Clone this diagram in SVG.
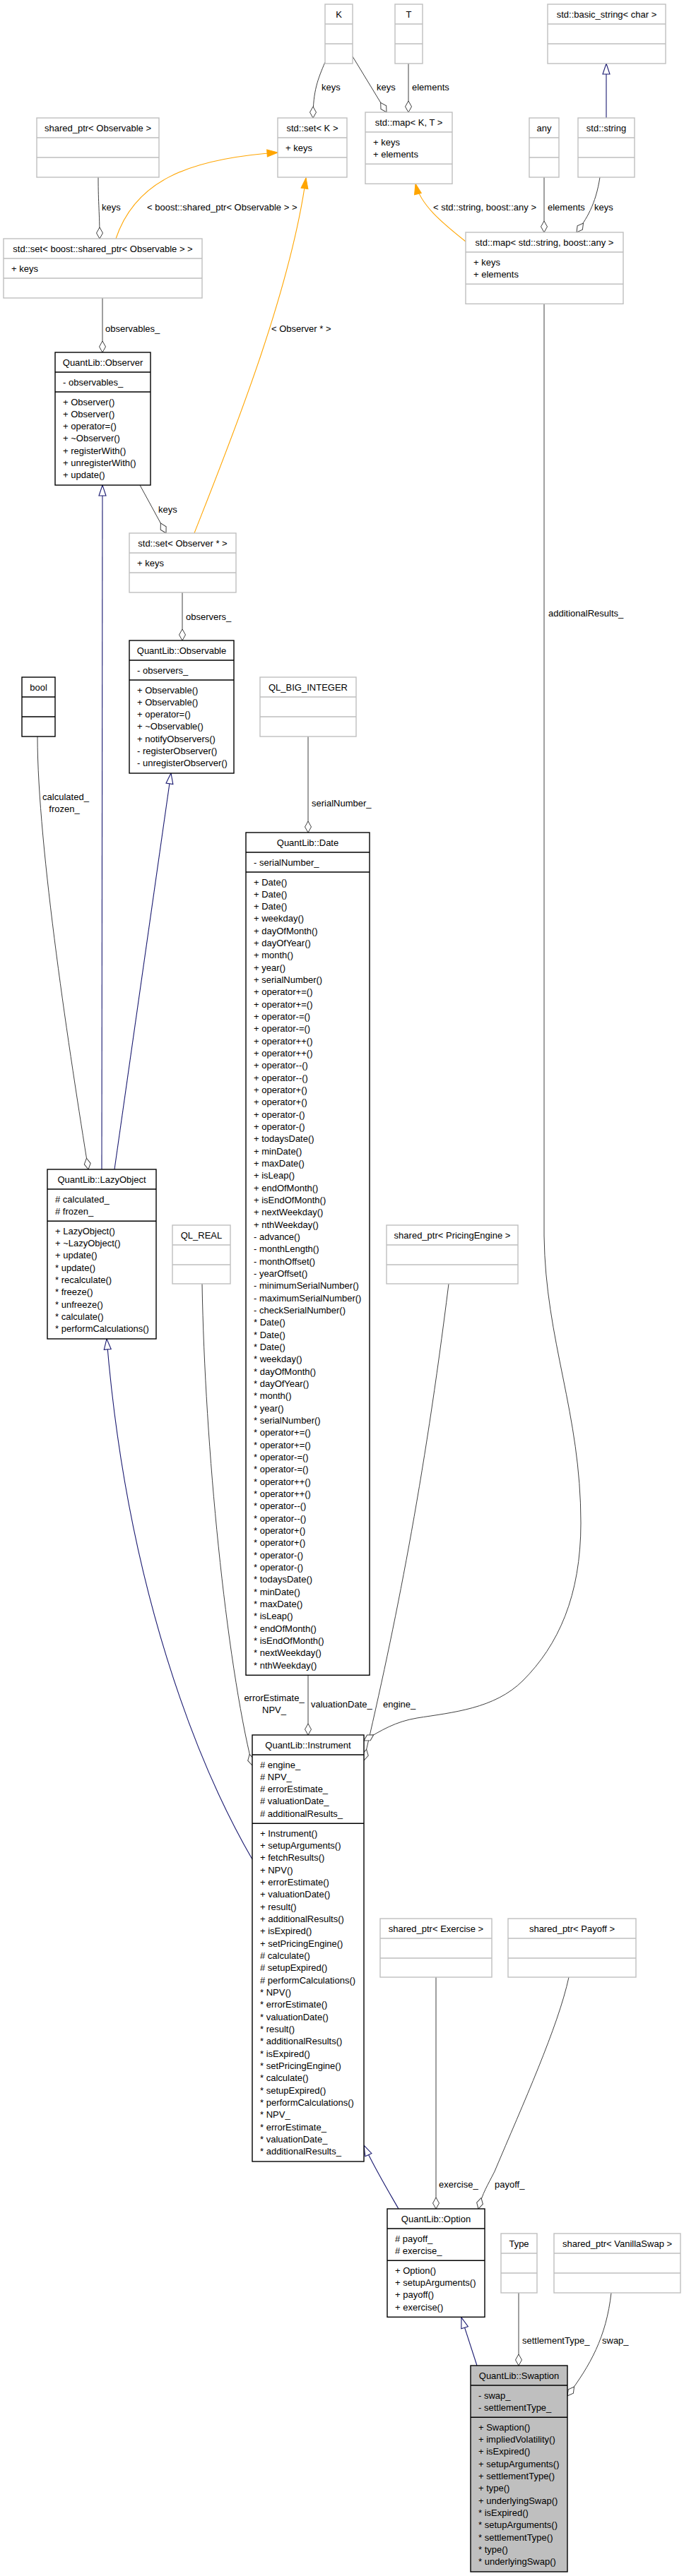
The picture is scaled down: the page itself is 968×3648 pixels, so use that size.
<svg xmlns="http://www.w3.org/2000/svg" width="968" height="3648" viewBox="0 0 968 3648">
<style>
text{font-family:"Liberation Sans",Arial,sans-serif;font-size:13px;fill:#000}
.c{text-anchor:middle}
.bk{fill:#fff;stroke:#000;stroke-width:1.4}
.gr{fill:#fff;stroke:#bfbfbf;stroke-width:1.4}
.sel{fill:#bfbfbf;stroke:#000;stroke-width:1.4}
.sk{stroke:#000;stroke-width:1.4}
.sg{stroke:#bfbfbf;stroke-width:1.4}
.ag{fill:none;stroke:#404040;stroke-width:1;marker-end:url(#dia)}
.in{fill:none;stroke:#191970;stroke-width:1.1;marker-end:url(#tri)}
.tp{fill:none;stroke:#ffa500;stroke-width:1.1;marker-end:url(#otri)}
</style>
<defs>
<marker id="dia" markerUnits="userSpaceOnUse" markerWidth="18" markerHeight="12" refX="16" refY="5" orient="auto" viewBox="-1 -1 18 12"><path d="M0,5 L8,0.5 L16,5 L8,9.5 Z" fill="#fff" stroke="#404040" stroke-width="1"/></marker>
<marker id="tri" markerUnits="userSpaceOnUse" markerWidth="17" markerHeight="13" refX="15" refY="5.5" orient="auto" viewBox="-1 -1 17 13"><path d="M0,0.5 L15,5.5 L0,10.5 Z" fill="#fff" stroke="#191970" stroke-width="1.1"/></marker>
<marker id="otri" markerUnits="userSpaceOnUse" markerWidth="17" markerHeight="13" refX="15" refY="5.5" orient="auto" viewBox="-1 -1 17 13"><path d="M0,0.5 L15,5.5 L0,10.5 Z" fill="#ffa500" stroke="#ffa500" stroke-width="1"/></marker>
</defs>
<rect width="968" height="3648" fill="#fff"/>

<g id="edges">
<path class="ag" d="M460,88 C450,112 443,128 443,167"/>
<path class="ag" d="M499,80 L547,159"/>
<path class="ag" d="M578,90 L578,159"/>
<path class="in" d="M858,167 L858,90"/>
<path class="ag" d="M139,251 C139,290 141,300 141,338"/>
<path class="tp" d="M164,338 C190,260 260,225 393,216"/>
<path class="tp" d="M275,755 C320,640 410,420 433,252"/>
<path class="tp" d="M659,342 C625,315 595,290 588,260"/>
<path class="ag" d="M770,251 L770,329"/>
<path class="ag" d="M849,251 C843,290 830,310 816,329"/>
<path class="ag" d="M145,422 L145,499"/>
<path class="ag" d="M198,687 L235,755"/>
<path class="ag" d="M258,839 L258,907"/>
<path class="in" d="M144,1656 L145,687"/>
<path class="in" d="M162,1656 L242,1095"/>
<path class="ag" d="M53,1043 C53,1200 100,1500 125,1656"/>
<path class="ag" d="M436,1043 L436,1179"/>
<path class="in" d="M357,2633 C280,2500 180,2250 151,1896"/>
<path class="ag" d="M286,1818 C290,2050 320,2350 357,2500"/>
<path class="ag" d="M436,2372 L436,2457"/>
<path class="ag" d="M635,1818 C600,2100 560,2300 515,2493"/>
<path class="ag" d="M770,431 L770,1750 C772,1900 822,2000 822,2157 C822,2260 790,2330 740,2380 C700,2420 640,2425 590,2433 C560,2438 540,2450 515,2465"/>
<path class="in" d="M564,3128 C545,3095 530,3070 515,3038"/>
<path class="ag" d="M617,2800 L617,3128"/>
<path class="ag" d="M805,2800 C790,2870 740,2980 700,3075 C690,3095 683,3105 677,3128"/>
<path class="in" d="M675,3350 L653,3282"/>
<path class="ag" d="M734,3247 L734,3350"/>
<path class="ag" d="M865,3247 C858,3310 835,3350 803,3393"/>
<text x="455" y="127.5">keys</text>
<text x="533" y="127.5">keys</text>
<text x="583" y="127.5">elements</text>
<text x="144" y="297.5">keys</text>
<text x="208" y="297.5">&lt; boost::shared_ptr&lt; Observable &gt; &gt;</text>
<text x="613" y="297.5">&lt; std::string, boost::any &gt;</text>
<text x="775" y="297.5">elements</text>
<text x="841" y="297.5">keys</text>
<text x="149" y="469.5">observables_</text>
<text x="384" y="469.5">&lt; Observer * &gt;</text>
<text x="224" y="725.5">keys</text>
<text x="263" y="877.5">observers_</text>
<text x="776" y="872.5">additionalResults_</text>
<text class="c" x="93" y="1132.5">calculated_</text>
<text class="c" x="91" y="1149.5">frozen_</text>
<text x="441" y="1141.5">serialNumber_</text>
<text class="c" x="388" y="2408.5">errorEstimate_</text>
<text class="c" x="388" y="2426">NPV_</text>
<text x="440" y="2417.5">valuationDate_</text>
<text x="542" y="2417.5">engine_</text>
<text x="621" y="3097.5">exercise_</text>
<text x="700" y="3097.5">payoff_</text>
<text x="739" y="3318.5">settlementType_</text>
<text x="852" y="3318.5">swap_</text>
</g>

<g id="K"><rect class="gr" x="460" y="6" width="39" height="84"/><path class="sg" d="M460,34H499M460,62H499"/><text class="c" x="479.5" y="24.5">K</text></g>
<g id="T"><rect class="gr" x="559" y="6" width="39" height="84"/><path class="sg" d="M559,34H598M559,62H598"/><text class="c" x="578.5" y="24.5">T</text></g>
<g id="basic_string"><rect class="gr" x="775" y="6" width="167" height="84"/><path class="sg" d="M775,34H942M775,62H942"/><text class="c" x="858.5" y="24.5">std::basic_string&lt; char &gt;</text></g>
<g id="shared_ptr_observable"><rect class="gr" x="52" y="167" width="173" height="84"/><path class="sg" d="M52,195H225M52,223H225"/><text class="c" x="138.5" y="185.5">shared_ptr&lt; Observable &gt;</text></g>
<g id="set_K"><rect class="gr" x="393" y="167" width="98" height="84"/><path class="sg" d="M393,195H491M393,223H491"/><text class="c" x="442" y="185.5">std::set&lt; K &gt;</text><text x="404" y="213.5">+ keys</text></g>
<g id="map_KT"><rect class="gr" x="517" y="159" width="123" height="101.3"/><path class="sg" d="M517,187H640M517,232.3H640"/><text class="c" x="578.5" y="177.5">std::map&lt; K, T &gt;</text><text x="528" y="205.5">+ keys</text><text x="528" y="222.8">+ elements</text></g>
<g id="any"><rect class="gr" x="749" y="167" width="42" height="84"/><path class="sg" d="M749,195H791M749,223H791"/><text class="c" x="770" y="185.5">any</text></g>
<g id="std_string"><rect class="gr" x="818" y="167" width="80" height="84"/><path class="sg" d="M818,195H898M818,223H898"/><text class="c" x="858" y="185.5">std::string</text></g>
<g id="set_shared_observable"><rect class="gr" x="5" y="338" width="281" height="84"/><path class="sg" d="M5,366H286M5,394H286"/><text class="c" x="145.5" y="356.5">std::set&lt; boost::shared_ptr&lt; Observable &gt; &gt;</text><text x="16" y="384.5">+ keys</text></g>
<g id="map_string_any"><rect class="gr" x="659" y="329" width="223" height="101.3"/><path class="sg" d="M659,357H882M659,402.3H882"/><text class="c" x="770.5" y="347.5">std::map&lt; std::string, boost::any &gt;</text><text x="670" y="375.5">+ keys</text><text x="670" y="392.8">+ elements</text></g>

<g id="Observer"><rect class="bk" x="78" y="499" width="135" height="188"/><path class="sk" d="M78,527H213M78,555H213"/><text class="c" x="145.5" y="517.5">QuantLib::Observer</text><text x="89" y="545.5">- observables_</text>
<text x="89" y="573.5"><tspan x="89">+ Observer()</tspan><tspan x="89" dy="17.33">+ Observer()</tspan><tspan x="89" dy="17.33">+ operator=()</tspan><tspan x="89" dy="17.33">+ ~Observer()</tspan><tspan x="89" dy="17.33">+ registerWith()</tspan><tspan x="89" dy="17.33">+ unregisterWith()</tspan><tspan x="89" dy="17.33">+ update()</tspan></text></g>

<g id="set_observer"><rect class="gr" x="183" y="755" width="151" height="84"/><path class="sg" d="M183,783H334M183,811H334"/><text class="c" x="258.5" y="773.5">std::set&lt; Observer * &gt;</text><text x="194" y="801.5">+ keys</text></g>

<g id="Observable"><rect class="bk" x="183" y="907" width="148" height="188"/><path class="sk" d="M183,935H331M183,963H331"/><text class="c" x="257" y="925.5">QuantLib::Observable</text><text x="194" y="953.5">- observers_</text>
<text x="194" y="981.5"><tspan x="194">+ Observable()</tspan><tspan x="194" dy="17.33">+ Observable()</tspan><tspan x="194" dy="17.33">+ operator=()</tspan><tspan x="194" dy="17.33">+ ~Observable()</tspan><tspan x="194" dy="17.33">+ notifyObservers()</tspan><tspan x="194" dy="17.33">- registerObserver()</tspan><tspan x="194" dy="17.33">- unregisterObserver()</tspan></text></g>

<g id="bool"><rect class="bk" x="31" y="959" width="47" height="84"/><path class="sk" d="M31,987H78M31,1015H78"/><text class="c" x="54.5" y="977.5">bool</text></g>
<g id="QL_BIG_INTEGER"><rect class="gr" x="368" y="959" width="136" height="84"/><path class="sg" d="M368,987H504M368,1015H504"/><text class="c" x="436" y="977.5">QL_BIG_INTEGER</text></g>

<g id="LazyObject"><rect class="bk" x="67" y="1656" width="154" height="240"/><path class="sk" d="M67,1684H221M67,1729.3H221"/><text class="c" x="144" y="1674.5">QuantLib::LazyObject</text><text x="78" y="1702.5"># calculated_</text><text x="78" y="1719.8"># frozen_</text>
<text x="78" y="1747.8"><tspan x="78">+ LazyObject()</tspan><tspan x="78" dy="17.33">+ ~LazyObject()</tspan><tspan x="78" dy="17.33">+ update()</tspan><tspan x="78" dy="17.33">* update()</tspan><tspan x="78" dy="17.33">* recalculate()</tspan><tspan x="78" dy="17.33">* freeze()</tspan><tspan x="78" dy="17.33">* unfreeze()</tspan><tspan x="78" dy="17.33">* calculate()</tspan><tspan x="78" dy="17.33">* performCalculations()</tspan></text></g>

<g id="QL_REAL"><rect class="gr" x="244" y="1735" width="82" height="83"/><path class="sg" d="M244,1763H326M244,1791H326"/><text class="c" x="285" y="1753.5">QL_REAL</text></g>
<g id="shared_ptr_pricingengine"><rect class="gr" x="547" y="1735" width="186" height="83"/><path class="sg" d="M547,1763H733M547,1791H733"/><text class="c" x="640" y="1753.5">shared_ptr&lt; PricingEngine &gt;</text></g>

<g id="Date"><rect class="bk" x="348" y="1179" width="175" height="1193.3"/><path class="sk" d="M348,1207H523M348,1235H523"/><text class="c" x="435.5" y="1197.5">QuantLib::Date</text><text x="359" y="1225.5">- serialNumber_</text>
<text x="359" y="1253.5"><tspan x="359">+ Date()</tspan><tspan x="359" dy="17.33">+ Date()</tspan><tspan x="359" dy="17.33">+ Date()</tspan><tspan x="359" dy="17.33">+ weekday()</tspan><tspan x="359" dy="17.33">+ dayOfMonth()</tspan><tspan x="359" dy="17.33">+ dayOfYear()</tspan><tspan x="359" dy="17.33">+ month()</tspan><tspan x="359" dy="17.33">+ year()</tspan><tspan x="359" dy="17.33">+ serialNumber()</tspan><tspan x="359" dy="17.33">+ operator+=()</tspan><tspan x="359" dy="17.33">+ operator+=()</tspan><tspan x="359" dy="17.33">+ operator-=()</tspan><tspan x="359" dy="17.33">+ operator-=()</tspan><tspan x="359" dy="17.33">+ operator++()</tspan><tspan x="359" dy="17.33">+ operator++()</tspan><tspan x="359" dy="17.33">+ operator--()</tspan><tspan x="359" dy="17.33">+ operator--()</tspan><tspan x="359" dy="17.33">+ operator+()</tspan><tspan x="359" dy="17.33">+ operator+()</tspan><tspan x="359" dy="17.33">+ operator-()</tspan><tspan x="359" dy="17.33">+ operator-()</tspan><tspan x="359" dy="17.33">+ todaysDate()</tspan><tspan x="359" dy="17.33">+ minDate()</tspan><tspan x="359" dy="17.33">+ maxDate()</tspan><tspan x="359" dy="17.33">+ isLeap()</tspan><tspan x="359" dy="17.33">+ endOfMonth()</tspan><tspan x="359" dy="17.33">+ isEndOfMonth()</tspan><tspan x="359" dy="17.33">+ nextWeekday()</tspan><tspan x="359" dy="17.33">+ nthWeekday()</tspan><tspan x="359" dy="17.33">- advance()</tspan><tspan x="359" dy="17.33">- monthLength()</tspan><tspan x="359" dy="17.33">- monthOffset()</tspan><tspan x="359" dy="17.33">- yearOffset()</tspan><tspan x="359" dy="17.33">- minimumSerialNumber()</tspan><tspan x="359" dy="17.33">- maximumSerialNumber()</tspan><tspan x="359" dy="17.33">- checkSerialNumber()</tspan><tspan x="359" dy="17.33">* Date()</tspan><tspan x="359" dy="17.33">* Date()</tspan><tspan x="359" dy="17.33">* Date()</tspan><tspan x="359" dy="17.33">* weekday()</tspan><tspan x="359" dy="17.33">* dayOfMonth()</tspan><tspan x="359" dy="17.33">* dayOfYear()</tspan><tspan x="359" dy="17.33">* month()</tspan><tspan x="359" dy="17.33">* year()</tspan><tspan x="359" dy="17.33">* serialNumber()</tspan><tspan x="359" dy="17.33">* operator+=()</tspan><tspan x="359" dy="17.33">* operator+=()</tspan><tspan x="359" dy="17.33">* operator-=()</tspan><tspan x="359" dy="17.33">* operator-=()</tspan><tspan x="359" dy="17.33">* operator++()</tspan><tspan x="359" dy="17.33">* operator++()</tspan><tspan x="359" dy="17.33">* operator--()</tspan><tspan x="359" dy="17.33">* operator--()</tspan><tspan x="359" dy="17.33">* operator+()</tspan><tspan x="359" dy="17.33">* operator+()</tspan><tspan x="359" dy="17.33">* operator-()</tspan><tspan x="359" dy="17.33">* operator-()</tspan><tspan x="359" dy="17.33">* todaysDate()</tspan><tspan x="359" dy="17.33">* minDate()</tspan><tspan x="359" dy="17.33">* maxDate()</tspan><tspan x="359" dy="17.33">* isLeap()</tspan><tspan x="359" dy="17.33">* endOfMonth()</tspan><tspan x="359" dy="17.33">* isEndOfMonth()</tspan><tspan x="359" dy="17.33">* nextWeekday()</tspan><tspan x="359" dy="17.33">* nthWeekday()</tspan></text></g>

<g id="Instrument"><rect class="bk" x="357" y="2457" width="158" height="604"/><path class="sk" d="M357,2485H515M357,2582.3H515"/><text class="c" x="436" y="2475.5">QuantLib::Instrument</text>
<text x="368" y="2503.5"><tspan x="368"># engine_</tspan><tspan x="368" dy="17.33"># NPV_</tspan><tspan x="368" dy="17.33"># errorEstimate_</tspan><tspan x="368" dy="17.33"># valuationDate_</tspan><tspan x="368" dy="17.33"># additionalResults_</tspan></text>
<text x="368" y="2600.8"><tspan x="368">+ Instrument()</tspan><tspan x="368" dy="17.33">+ setupArguments()</tspan><tspan x="368" dy="17.33">+ fetchResults()</tspan><tspan x="368" dy="17.33">+ NPV()</tspan><tspan x="368" dy="17.33">+ errorEstimate()</tspan><tspan x="368" dy="17.33">+ valuationDate()</tspan><tspan x="368" dy="17.33">+ result()</tspan><tspan x="368" dy="17.33">+ additionalResults()</tspan><tspan x="368" dy="17.33">+ isExpired()</tspan><tspan x="368" dy="17.33">+ setPricingEngine()</tspan><tspan x="368" dy="17.33"># calculate()</tspan><tspan x="368" dy="17.33"># setupExpired()</tspan><tspan x="368" dy="17.33"># performCalculations()</tspan><tspan x="368" dy="17.33">* NPV()</tspan><tspan x="368" dy="17.33">* errorEstimate()</tspan><tspan x="368" dy="17.33">* valuationDate()</tspan><tspan x="368" dy="17.33">* result()</tspan><tspan x="368" dy="17.33">* additionalResults()</tspan><tspan x="368" dy="17.33">* isExpired()</tspan><tspan x="368" dy="17.33">* setPricingEngine()</tspan><tspan x="368" dy="17.33">* calculate()</tspan><tspan x="368" dy="17.33">* setupExpired()</tspan><tspan x="368" dy="17.33">* performCalculations()</tspan><tspan x="368" dy="17.33">* NPV_</tspan><tspan x="368" dy="17.33">* errorEstimate_</tspan><tspan x="368" dy="17.33">* valuationDate_</tspan><tspan x="368" dy="17.33">* additionalResults_</tspan></text></g>

<g id="shared_ptr_exercise"><rect class="gr" x="538" y="2717" width="158" height="83"/><path class="sg" d="M538,2745H696M538,2773H696"/><text class="c" x="617" y="2735.5">shared_ptr&lt; Exercise &gt;</text></g>
<g id="shared_ptr_payoff"><rect class="gr" x="719" y="2717" width="181" height="83"/><path class="sg" d="M719,2745H900M719,2773H900"/><text class="c" x="809.5" y="2735.5">shared_ptr&lt; Payoff &gt;</text></g>

<g id="Option"><rect class="bk" x="548" y="3128" width="138" height="153.3"/><path class="sk" d="M548,3156H686M548,3201.3H686"/><text class="c" x="617" y="3146.5">QuantLib::Option</text><text x="559" y="3174.5"># payoff_</text><text x="559" y="3191.8"># exercise_</text>
<text x="559" y="3219.8"><tspan x="559">+ Option()</tspan><tspan x="559" dy="17.33">+ setupArguments()</tspan><tspan x="559" dy="17.33">+ payoff()</tspan><tspan x="559" dy="17.33">+ exercise()</tspan></text></g>

<g id="Type"><rect class="gr" x="709" y="3163" width="51" height="84"/><path class="sg" d="M709,3191H760M709,3219H760"/><text class="c" x="734.5" y="3181.5">Type</text></g>
<g id="shared_ptr_vanillaswap"><rect class="gr" x="784" y="3163" width="179" height="84"/><path class="sg" d="M784,3191H963M784,3219H963"/><text class="c" x="873.5" y="3181.5">shared_ptr&lt; VanillaSwap &gt;</text></g>

<g id="Swaption"><rect class="sel" x="666" y="3350" width="137" height="292"/><path class="sk" d="M666,3378H803M666,3423.3H803"/><text class="c" x="734.5" y="3368.5">QuantLib::Swaption</text><text x="677" y="3396.5">- swap_</text><text x="677" y="3413.8">- settlementType_</text>
<text x="677" y="3441.8"><tspan x="677">+ Swaption()</tspan><tspan x="677" dy="17.33">+ impliedVolatility()</tspan><tspan x="677" dy="17.33">+ isExpired()</tspan><tspan x="677" dy="17.33">+ setupArguments()</tspan><tspan x="677" dy="17.33">+ settlementType()</tspan><tspan x="677" dy="17.33">+ type()</tspan><tspan x="677" dy="17.33">+ underlyingSwap()</tspan><tspan x="677" dy="17.33">* isExpired()</tspan><tspan x="677" dy="17.33">* setupArguments()</tspan><tspan x="677" dy="17.33">* settlementType()</tspan><tspan x="677" dy="17.33">* type()</tspan><tspan x="677" dy="17.33">* underlyingSwap()</tspan></text></g>
</svg>
